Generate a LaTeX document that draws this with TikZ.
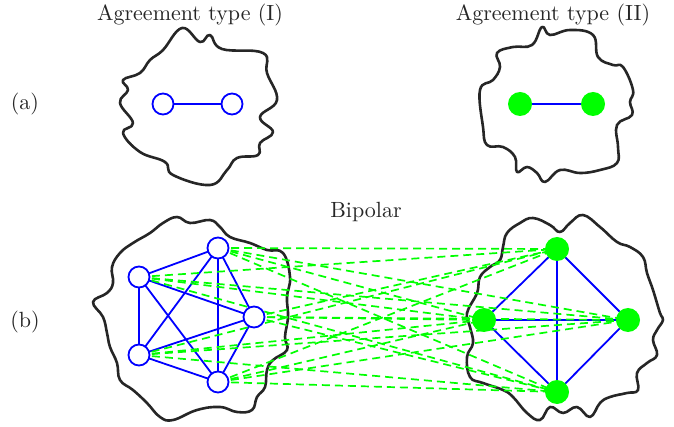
\documentclass[tikz,border=0pt]{standalone}
\begin{document}
\begin{tikzpicture}[x=1pt,y=-1pt,
  blob/.style={draw=black!85, line width=2.6pt, line join=round},
  opn/.style={circle, draw=blue, fill=white, line width=1.8pt, minimum size=21pt, inner sep=0pt},
  fil/.style={circle, fill=green, draw=none, minimum size=24pt, inner sep=0pt},
  be/.style={draw=blue, line width=1.8pt},
  ge/.style={draw=green, line width=1.7pt, dash pattern=on 8pt off 5pt},
  lab/.style={inner sep=0pt, text=black!85}]
\useasboundingbox (0,0) rectangle (674,427);
% labels
\node[lab] (ta) at (190,15) {\scalebox{2.2}{Agreement type (I)}};
\node[lab] (tb) at (553,15) {\scalebox{2.2}{Agreement type (II)}};
\node[lab] (la) at (25,104) {\scalebox{2.2}{(a)}};
\node[lab] (lb) at (25,322) {\scalebox{2.2}{(b)}};
\node[lab] (bp) at (366,212) {\scalebox{2.2}{Bipolar}};
% blobs
\draw[blob] plot[smooth cycle, tension=0.7] coordinates {(182,28) (200,42) (210,35) (222,49) (263,53) (267,73) (277,100) (260,117) (273,132) (260,143) (258,155) (237,158) (227,170) (210,185) (173,175) (165,162) (140,152) (123,133) (133,123) (120,103) (128,90) (123,80) (140,73) (150,60) (163,50)};
\draw[blob] plot[smooth cycle, tension=0.7] coordinates {(542,27) (550,35) (570,30) (593,35) (598,57) (613,65) (623,67) (633,90) (630,102) (632,115) (617,125) (618,147) (617,163) (600,170) (580,173) (560,170) (545,182) (537,173) (527,167) (517,172) (515,157) (503,147) (487,145) (483,127) (480,90) (493,80) (500,67) (497,53) (513,47) (532,45)};
\draw[blob] plot[smooth cycle, tension=0.7] coordinates {(177,217) (190,223) (210,220) (220,227) (230,237) (250,243) (267,250) (283,253) (290,277) (287,297) (288,317) (285,337) (287,350) (273,360) (267,370) (265,387) (257,397) (252,410) (237,412) (220,407) (197,410) (173,420) (160,417) (147,403) (133,390) (120,380) (117,363) (110,347) (107,333) (103,317) (93,302) (107,293) (113,283) (112,267) (120,253) (133,243) (150,233) (163,223)};
\draw[blob] plot[smooth cycle, tension=0.7] coordinates {(507,233) (520,223) (533,218) (550,225) (560,232) (570,223) (583,215) (600,227) (617,242) (630,247) (643,257) (647,273) (653,290) (660,313) (663,320) (657,330) (653,340) (657,355) (647,363) (637,373) (638,390) (627,393) (610,397) (600,403) (590,417) (577,407) (563,413) (550,407) (540,420) (527,413) (513,397) (503,390) (483,383) (470,377) (467,357) (473,343) (470,327) (467,313) (477,293) (480,277) (490,267) (500,260) (503,247)};
% node positions
\coordinate (pa1) at (163,104); \coordinate (pa2) at (232,104);
\coordinate (pb1) at (520,104); \coordinate (pb2) at (593,104);
\coordinate (pl1) at (218,248); \coordinate (pl2) at (139,277);
\coordinate (pl3) at (254,317); \coordinate (pl4) at (139,355);
\coordinate (pl5) at (218,382);
\coordinate (pr1) at (557,249); \coordinate (pr2) at (484,320);
\coordinate (pr3) at (628,320); \coordinate (pr4) at (557,392);
% blue edges
\draw[be] (pa1) -- (pa2);
\draw[be] (pb1) -- (pb2);
\foreach \i/\j in {1/2,1/3,1/4,1/5,2/3,2/4,2/5,3/4,3/5,4/5}
  \draw[be] (pl\i) -- (pl\j);
\foreach \i/\j in {1/2,1/3,1/4,2/3,2/4,3/4}
  \draw[be] (pr\i) -- (pr\j);
% green dashed edges
\foreach \i in {1,...,5}
  \foreach \j in {1,...,4}
    \draw[ge] (pl\i) -- (pr\j);
% nodes
\node[opn] (a1) at (pa1) {}; \node[opn] (a2) at (pa2) {};
\node[fil] (b1) at (pb1) {}; \node[fil] (b2) at (pb2) {};
\foreach \i in {1,...,5} \node[opn] (l\i) at (pl\i) {};
\foreach \i in {1,...,4} \node[fil] (r\i) at (pr\i) {};
\end{tikzpicture}
\end{document}
